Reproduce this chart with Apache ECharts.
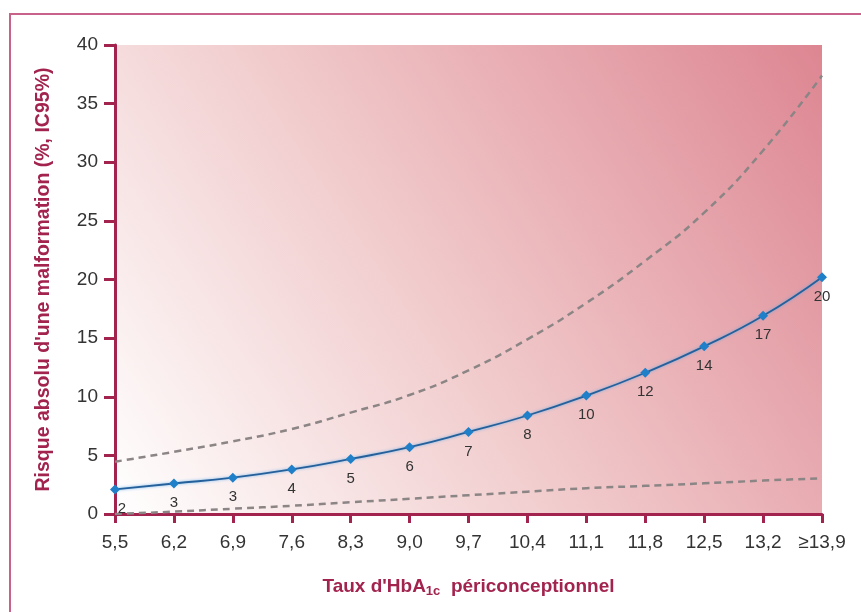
<!DOCTYPE html>
<html>
<head>
<meta charset="utf-8">
<script src="https://cdn.jsdelivr.net/npm/echarts@6/dist/echarts.min.js"></script>
<style>html,body{margin:0;padding:0;background:#fff}#c{width:861px;height:612px}</style>
</head>
<body>
<div id="c"></div>
<script>
const categories = ['5,5','6,2','6,9','7,6','8,3','9,0','9,7','10,4','11,1','11,8','12,5','13,2','≥13,9'];
const risk = [2.1, 2.6, 3.1, 3.8, 4.7, 5.7, 7.0, 8.4, 10.1, 12.05, 14.3, 16.9, 20.2];
const riskLabels = ['2','3','3','4','5','6','7','8','10','12','14','17','20'];
const upperCI = [4.46, 5.3, 6.2, 7.25, 8.65, 10.15, 12.25, 14.9, 18.0, 21.6, 25.7, 31.0, 37.4];
const lowerCI = [0.0, 0.2, 0.45, 0.7, 1.0, 1.3, 1.6, 1.9, 2.2, 2.4, 2.62, 2.85, 3.05];
const yTicks = [0, 5, 10, 15, 20, 25, 30, 35, 40];

const crimson = '#a3234f';
const font = "'Liberation Sans Narrow','Arial Narrow','Liberation Sans',Arial,sans-serif";
const chart = echarts.init(document.getElementById('c'));
const dashed = {type:'line', smooth:true, symbol:'none', z:2, silent:true,
  lineStyle:{color:'#8c8585', width:2.5, type:[7,5]}};
const riskData = risk.map((v, i) => i === 0 ? {value:v, label:{offset:[7,0]}} : v);
chart.setOption({
  animation:false,
  grid:{left:115, right:39, top:45, bottom:98, show:true, borderWidth:0,
    backgroundColor:new echarts.graphic.LinearGradient(0,1,1,0,[
      {offset:0, color:'#ffffff'},
      {offset:0.45, color:'#f1cbcc'},
      {offset:1, color:'#dd8692'}])},
  graphic:[{type:'polyline', silent:true, shape:{points:[[10,612],[10,14],[861,14]]},
    style:{stroke:'#c8628a', lineWidth:2, fill:null}}],
  xAxis:{type:'category', data:categories, boundaryGap:false,
    axisLine:{lineStyle:{color:crimson, width:3}},
    axisTick:{show:true, length:9, lineStyle:{color:crimson, width:3}, alignWithLabel:true},
    axisLabel:{color:'#333', fontSize:19, fontFamily:font, margin:19, interval:0},
    name:"{a|Taux d'HbA}{s|1c}{a|  périconceptionnel}", nameLocation:'middle', nameGap:62,
    nameTextStyle:{rich:{
      a:{color:crimson, fontSize:19, fontWeight:'bold', fontFamily:font},
      s:{color:crimson, fontSize:13, fontWeight:'bold', fontFamily:font, verticalAlign:'bottom', padding:[9,0,0,0]}}},
    splitLine:{show:false}},
  yAxis:{type:'value', min:yTicks[0], max:yTicks[yTicks.length-1], interval:5,
    axisLine:{show:true, lineStyle:{color:crimson, width:3}},
    axisTick:{show:true, length:11, lineStyle:{color:crimson, width:3}},
    axisLabel:{color:'#333', fontSize:19, fontFamily:font, margin:17},
    splitLine:{show:false},
    name:"Risque absolu d'une malformation (%, IC95%)", nameLocation:'middle', nameGap:61,
    nameTextStyle:{color:crimson, fontSize:19.5, fontWeight:'bold', fontFamily:font}},
  series:[
    Object.assign({name:'upper', data:upperCI}, dashed),
    Object.assign({name:'lower', data:lowerCI}, dashed),
    {name:'risk', type:'line', data:riskData, smooth:true, z:3,
     symbol:'diamond', symbolSize:10,
     itemStyle:{color:'#1f7fc8'},
     lineStyle:{color:'#26609a', width:1.8, shadowColor:'rgba(80,170,240,0.8)', shadowBlur:3},
     label:{show:true, position:'bottom', distance:7, color:'#333', fontSize:15, fontFamily:font,
       formatter:p=>riskLabels[p.dataIndex]}}
  ]
});
</script>
</body>
</html>
